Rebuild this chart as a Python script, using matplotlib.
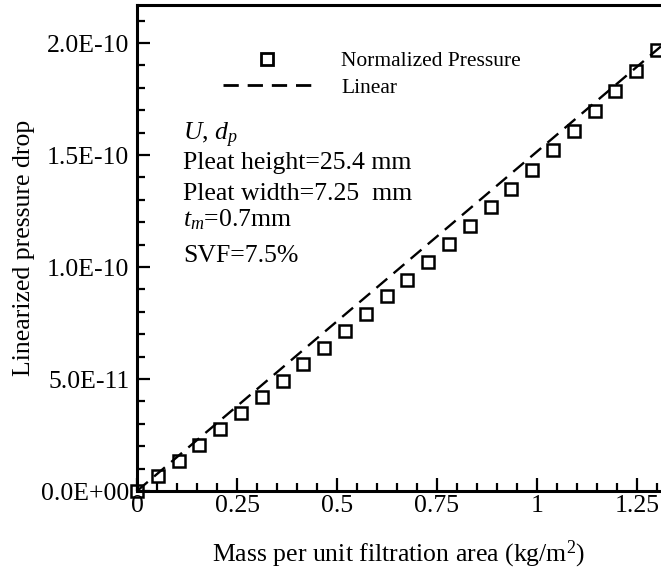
import matplotlib
matplotlib.use("Agg")
import matplotlib.pyplot as plt
from matplotlib.ticker import MultipleLocator, FuncFormatter, FixedLocator
from matplotlib.lines import Line2D

# Dust loading data
mass = [0.000, 0.052, 0.104, 0.156, 0.208, 0.260, 0.312, 0.364, 0.416,
        0.468, 0.520, 0.572, 0.624, 0.676, 0.728, 0.780, 0.832, 0.884,
        0.936, 0.988, 1.040, 1.092, 1.144, 1.196, 1.248, 1.300]
pressure = [0.0, 6.7e-12, 1.34e-11, 2.06e-11, 2.76e-11, 3.47e-11, 4.20e-11,
            4.92e-11, 5.67e-11, 6.38e-11, 7.13e-11, 7.90e-11, 8.70e-11,
            9.42e-11, 1.021e-10, 1.104e-10, 1.183e-10, 1.268e-10, 1.350e-10,
            1.435e-10, 1.521e-10, 1.608e-10, 1.696e-10, 1.787e-10, 1.876e-10,
            1.969e-10]

# Linear reference line
linear_x = [0.0, 1.31]
linear_y = [0.0, 1.985e-10]

x_ticks = [0, 0.25, 0.5, 0.75, 1, 1.25]
y_ticks = [0.0, 5.0e-11, 1.0e-10, 1.5e-10, 2.0e-10]

info_lines = [r"$U$, $d_p$",
              "Pleat height=25.4 mm",
              "Pleat width=7.25  mm",
              r"$t_m$=0.7mm",
              "SVF=7.5%"]
info_baselines = [140, 169, 200, 226, 262]

plt.rcParams["font.family"] = ["Liberation Serif", "DejaVu Serif"]
plt.rcParams["mathtext.fontset"] = "custom"
plt.rcParams["mathtext.rm"] = "Liberation Serif"
plt.rcParams["mathtext.it"] = "Liberation Serif:italic"

W, H = 661, 574
fig = plt.figure(figsize=(W / 100, H / 100), dpi=100)
ax = fig.add_axes([137 / W, (H - 491) / H, 1 - 137 / W, (491 - 5) / H])

dash_style = (6.0, 3.5)
ax.plot(linear_x, linear_y, color="black", lw=1.7, dashes=dash_style,
        label="Linear", zorder=2)
ax.plot(mass, pressure, linestyle="none", marker="s", ms=8, mew=1.8,
        mfc="none", mec="black", label="Normalized Pressure",
        clip_on=False, zorder=3)

ax.set_xlim(0, (W - 137) / 400)
ax.set_ylim(0, (491 - 5) / 224 * 1e-10)

ax.xaxis.set_major_locator(FixedLocator(x_ticks))
ax.xaxis.set_minor_locator(MultipleLocator(0.05))
ax.yaxis.set_major_locator(FixedLocator(y_ticks))
ax.yaxis.set_minor_locator(MultipleLocator(1e-11))
ax.xaxis.set_major_formatter(FuncFormatter(lambda v, p: f"{v:g}"))
ax.yaxis.set_major_formatter(FuncFormatter(lambda v, p: f"{v:.1E}"))

ax.tick_params(which="both", direction="in", top=False, right=False,
               labelsize=18.5, width=1.6)
ax.tick_params(which="major", length=9.5)
ax.tick_params(which="minor", length=5.8)
ax.tick_params(axis="y", pad=5.5)
ax.tick_params(axis="x", pad=3)

for side in ("left", "bottom", "top"):
    ax.spines[side].set_linewidth(2.2)
ax.spines["right"].set_visible(False)

ax.set_xlabel(r"Mass per unit filtration area (kg/m$^{2}$)", fontsize=18.5,
              labelpad=15.5)
ax.set_ylabel("Linearized pressure drop", fontsize=18.5, labelpad=4.5)

handles = [Line2D([], [], linestyle="none", marker="s", ms=8.5, mew=2.0,
                  mfc="none", mec="black"),
           Line2D([], [], color="black", lw=2.0, dashes=(5.5, 3.2))]
ax.legend(handles, ["Normalized Pressure", "Linear"], loc="upper left",
          bbox_to_anchor=(223 / W, 1 - 51 / H), bbox_transform=fig.transFigure,
          frameon=False, fontsize=15.5, handlelength=4.1, handletextpad=1.4,
          labelspacing=0.32, borderpad=0, borderaxespad=0)

for txt, yb in zip(info_lines, info_baselines):
    fig.text(183 / W, 1 - yb / H, txt, fontsize=18.5, va="baseline",
             ha="left")

fig.savefig("out.png", dpi=100)
